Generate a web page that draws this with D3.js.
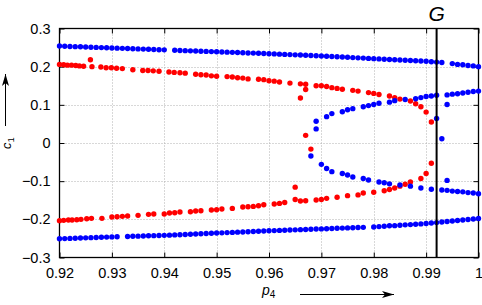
<!DOCTYPE html>
<html>
<head>
<meta charset="utf-8">
<script src="https://cdn.jsdelivr.net/npm/d3@7"></script>
<style>
  html, body { margin: 0; padding: 0; background: #fff; }
  svg { display: block; }
  text { font-family: "Liberation Sans", Arial, Helvetica, sans-serif; }
</style>
</head>
<body>
<div id="chart"></div>
<script>
// ---------- data ----------
const xTicks = [0.92, 0.93, 0.94, 0.95, 0.96, 0.97, 0.98, 0.99, 1.0];
const xTickLabels = ["0.92", "0.93", "0.94", "0.95", "0.96", "0.97", "0.98", "0.99", "1"];
const yTicks = [-0.3, -0.2, -0.1, 0, 0.1, 0.2, 0.3];
const yTickLabels = ["\u22120.3", "\u22120.2", "\u22120.1", "0", "0.1", "0.2", "0.3"];
const markerG = 0.992;
const markerLabel = "G";

// blue series: outer upper branch
const blueUpperX = [0.920,0.921,0.922,0.923,0.924,0.925,0.926,0.927,0.928,0.929,0.930,0.931,0.932,0.933,0.934,0.935,0.936,0.937,0.938,0.939,0.940,0.942,0.943,0.944,0.945,0.946,0.947,0.948,0.949,0.950,0.951,0.952,0.953,0.954,0.955,0.956,0.957,0.958,0.959,0.960,0.961,0.962,0.963,0.964,0.965,0.966,0.967,0.968,0.969,0.970,0.971,0.972,0.973,0.974,0.975,0.976,0.977,0.978,0.979,0.980,0.981,0.982,0.983,0.984,0.985,0.986,0.987,0.988,0.989,0.990,0.991,0.992,0.993,0.995,0.996,0.997,0.998,0.999,1.000];
const blueUpperY = [0.254,0.2535,0.253,0.2525,0.252,0.2515,0.251,0.2505,0.250,0.2495,0.249,0.2485,0.248,0.2475,0.247,0.2465,0.246,0.2455,0.245,0.2445,0.244,0.243,0.2425,0.242,0.2415,0.241,0.2405,0.240,0.2395,0.239,0.2385,0.238,0.2375,0.237,0.2365,0.236,0.2355,0.235,0.2345,0.234,0.2334,0.2328,0.2322,0.2316,0.231,0.2304,0.2298,0.2292,0.2286,0.228,0.2273,0.2266,0.2259,0.2252,0.2245,0.2238,0.2231,0.2224,0.2217,0.221,0.2203,0.2196,0.2189,0.2182,0.2175,0.2168,0.2161,0.2154,0.2147,0.214,0.213,0.212,0.211,0.208,0.206,0.205,0.203,0.202,0.200];

// blue series: outer lower branch
const blueLowerX = [0.920,0.921,0.922,0.923,0.924,0.925,0.926,0.927,0.928,0.929,0.930,0.931,0.933,0.934,0.935,0.936,0.937,0.938,0.939,0.940,0.941,0.942,0.943,0.944,0.945,0.946,0.947,0.948,0.949,0.950,0.951,0.952,0.953,0.954,0.955,0.956,0.957,0.958,0.959,0.960,0.961,0.962,0.963,0.964,0.965,0.966,0.967,0.968,0.969,0.970,0.971,0.972,0.973,0.974,0.975,0.976,0.977,0.978,0.980,0.981,0.982,0.983,0.984,0.985,0.986,0.987,0.988,0.989,0.990,0.991,0.992,0.993,0.994,0.995,0.996,0.997,0.998,0.999,1.000];
const blueLowerY = [-0.251,-0.2505,-0.250,-0.2495,-0.249,-0.2485,-0.248,-0.2475,-0.247,-0.2465,-0.246,-0.2456,-0.2448,-0.2444,-0.244,-0.2436,-0.2432,-0.2428,-0.2424,-0.242,-0.2414,-0.2408,-0.2402,-0.2396,-0.239,-0.2384,-0.2378,-0.2372,-0.2366,-0.236,-0.2354,-0.2348,-0.2342,-0.2336,-0.233,-0.2324,-0.2318,-0.2312,-0.2306,-0.230,-0.2295,-0.229,-0.2285,-0.228,-0.2275,-0.227,-0.2265,-0.226,-0.2255,-0.225,-0.2245,-0.224,-0.2235,-0.223,-0.2225,-0.222,-0.2215,-0.221,-0.220,-0.219,-0.218,-0.217,-0.2165,-0.2155,-0.2145,-0.2138,-0.213,-0.212,-0.211,-0.2098,-0.2085,-0.207,-0.2057,-0.2044,-0.203,-0.2017,-0.2003,-0.199,-0.198];

// blue series: inner closed branch
const blueInnerX = [0.968,0.969,0.969,0.971,0.972,0.974,0.975,0.976,0.978,0.979,0.980,0.981,0.983,0.984,0.986,0.988,0.989,0.990,0.991,0.992,0.994,0.995,0.996,0.997,0.998,0.999,1.000,0.994,0.992,0.993,0.970,0.971,0.972,0.974,0.975,0.976,0.978,0.979,0.981,0.982,0.983,0.985,0.987,0.989,0.991,0.993,0.994,0.995,0.996,0.997,0.998,0.999,1.000,0.994];
const blueInnerY = [-0.034,0.037,0.057,0.069,0.077,0.082,0.087,0.090,0.095,0.098,0.101,0.104,0.107,0.111,0.114,0.116,0.119,0.122,0.123,0.125,0.126,0.128,0.129,0.131,0.133,0.135,0.136,0.101,0.064,0.011,-0.056,-0.067,-0.075,-0.080,-0.084,-0.089,-0.093,-0.097,-0.102,-0.104,-0.107,-0.110,-0.113,-0.118,-0.121,-0.123,-0.124,-0.126,-0.127,-0.128,-0.130,-0.131,-0.133,-0.098];

// red series: upper branch
const redUpperX = [0.9200,0.9208,0.9215,0.9223,0.9231,0.9238,0.9246,0.9259,0.9262,0.9279,0.9289,0.9299,0.9309,0.9320,0.9340,0.9359,0.9369,0.9379,0.9390,0.9409,0.9419,0.943,0.944,0.946,0.947,0.948,0.949,0.950,0.952,0.953,0.954,0.955,0.956,0.958,0.959,0.960,0.961,0.962,0.964,0.966,0.967,0.967,0.966,0.969,0.970,0.971,0.972,0.973,0.974,0.976,0.977,0.979,0.980,0.981,0.983,0.984,0.985,0.987,0.988,0.989,0.990,0.991,0.967,0.968];
const redUpperY = [0.206,0.205,0.204,0.204,0.203,0.202,0.201,0.218,0.200,0.199,0.197,0.197,0.196,0.195,0.192,0.190,0.190,0.189,0.188,0.186,0.185,0.184,0.183,0.180,0.179,0.178,0.176,0.175,0.174,0.173,0.171,0.170,0.168,0.167,0.166,0.163,0.162,0.160,0.157,0.155,0.154,0.140,0.118,0.150,0.150,0.148,0.145,0.143,0.141,0.138,0.136,0.132,0.130,0.127,0.123,0.119,0.115,0.110,0.103,0.095,0.081,0.055,0.020,-0.016];

// red series: lower branch
const redLowerX = [0.9200,0.9208,0.9217,0.9224,0.9233,0.9241,0.9252,0.9261,0.9281,0.9300,0.9310,0.9320,0.9330,0.9350,0.9370,0.9380,0.9400,0.9410,0.9420,0.9430,0.9450,0.9460,0.9470,0.9490,0.9500,0.9510,0.9530,0.9550,0.9560,0.9570,0.9580,0.9590,0.9610,0.9620,0.9630,0.9650,0.9650,0.9660,0.9670,0.9690,0.9700,0.9710,0.9730,0.9750,0.9770,0.9780,0.9800,0.9820,0.9830,0.9840,0.9850,0.9860,0.9870,0.9890,0.9900,0.9910];
const redLowerY = [-0.2035,-0.2026,-0.2018,-0.2018,-0.2009,-0.2000,-0.1983,-0.1974,-0.1974,-0.1939,-0.1931,-0.1922,-0.1913,-0.1896,-0.1870,-0.1861,-0.1860,-0.1835,-0.1826,-0.1809,-0.1800,-0.1783,-0.1774,-0.1757,-0.1748,-0.1731,-0.1713,-0.1678,-0.1670,-0.1661,-0.1644,-0.1618,-0.1600,-0.1583,-0.1557,-0.1157,-0.1480,-0.1520,-0.1515,-0.1495,-0.1480,-0.1450,-0.1420,-0.1380,-0.1360,-0.1310,-0.1290,-0.1250,-0.1220,-0.1180,-0.1130,-0.1080,-0.1020,-0.0930,-0.0800,-0.0530];

// ---------- chart ----------
const W = 482, H = 305;
const L = 59.5, R = 478.5, T = 28.5, B = 257.5;

const svg = d3.select("#chart").append("svg").attr("width", W).attr("height", H);

const x = d3.scaleLinear().domain([0.92, 1.0]).range([L, R]);
const y = d3.scaleLinear().domain([-0.3, 0.3]).range([B, T]);

// grid
const grid = svg.append("g").attr("stroke", "#b0b0b0").attr("stroke-width", 1).attr("stroke-dasharray", "1,2");
grid.selectAll("line.gx").data(xTicks.slice(1, -1)).join("line")
  .attr("x1", d => Math.round(x(d)) + 0.5).attr("x2", d => Math.round(x(d)) + 0.5)
  .attr("y1", T).attr("y2", B);
grid.selectAll("line.gy").data(yTicks.slice(1, -1)).join("line")
  .attr("y1", d => Math.round(y(d)) + 0.5).attr("y2", d => Math.round(y(d)) + 0.5)
  .attr("x1", L).attr("x2", R);

// axes (inward ticks, mirrored)
const fontSize = "14.5px";
const axB = svg.append("g").attr("transform", `translate(0,${B})`)
  .call(d3.axisBottom(x).tickValues(xTicks).tickFormat((d, i) => xTickLabels[i]).tickSizeInner(-5).tickSizeOuter(0).tickPadding(10));
const axT = svg.append("g").attr("transform", `translate(0,${T})`)
  .call(d3.axisTop(x).tickValues(xTicks).tickFormat("").tickSizeInner(-5).tickSizeOuter(0));
const axL = svg.append("g").attr("transform", `translate(${L},0)`)
  .call(d3.axisLeft(y).tickValues(yTicks).tickFormat((d, i) => yTickLabels[i]).tickSizeInner(-5).tickSizeOuter(0).tickPadding(9));
const axR = svg.append("g").attr("transform", `translate(${R},0)`)
  .call(d3.axisRight(y).tickValues(yTicks).tickFormat("").tickSizeInner(-5).tickSizeOuter(0));
[axB, axT, axL, axR].forEach(a => {
  a.select(".domain").remove();
  a.selectAll(".tick line").attr("stroke", "#000");
  a.selectAll("text").attr("font-size", fontSize).attr("fill", "#000")
    .attr("font-family", '"Liberation Sans", Arial, sans-serif');
});

// frame
svg.append("rect").attr("x", L).attr("y", T).attr("width", R - L).attr("height", B - T)
  .attr("fill", "none").attr("stroke", "#000").attr("stroke-width", 1.3);

// points
function pts(xs, ys) { return xs.map((v, i) => [v, ys[i]]); }
const rad = 2.7;
const gDots = svg.append("g");
const redPts = pts(redUpperX, redUpperY).concat(pts(redLowerX, redLowerY));
const bluePts = pts(blueUpperX, blueUpperY).concat(pts(blueLowerX, blueLowerY), pts(blueInnerX, blueInnerY));
gDots.selectAll("circle.r").data(redPts).join("circle").attr("class", "r")
  .attr("cx", d => x(d[0])).attr("cy", d => y(d[1])).attr("r", rad).attr("fill", "#ff0000");
gDots.selectAll("circle.b").data(bluePts).join("circle").attr("class", "b")
  .attr("cx", d => x(d[0])).attr("cy", d => y(d[1])).attr("r", rad).attr("fill", "#0000ff");

// marker line G
svg.append("line").attr("x1", x(markerG)).attr("x2", x(markerG)).attr("y1", T).attr("y2", B)
  .attr("stroke", "#000").attr("stroke-width", 2);
svg.append("text").attr("x", x(markerG)).attr("y", 21).attr("text-anchor", "middle")
  .attr("font-size", "21px").attr("font-style", "italic").text(markerLabel);

// arrow marker
const defs = svg.append("defs");
defs.append("marker").attr("id", "arr").attr("viewBox", "0 0 12 8").attr("refX", 12).attr("refY", 4)
  .attr("markerWidth", 12).attr("markerHeight", 8).attr("markerUnits", "userSpaceOnUse").attr("orient", "auto")
  .append("path").attr("d", "M0,0.5 L12,4 L0,7.5 L3,4 Z").attr("fill", "#000");

// x label
const xl = svg.append("text").attr("x", 262).attr("y", 295).attr("font-size", "14px");
xl.append("tspan").attr("font-style", "italic").text("p");
xl.append("tspan").attr("font-size", "10px").attr("dy", 3).text("4");
svg.append("line").attr("x1", 300).attr("x2", 394).attr("y1", 294.5).attr("y2", 294.5)
  .attr("stroke", "#000").attr("stroke-width", 1).attr("marker-end", "url(#arr)");

// y label
const yl = svg.append("text").attr("transform", "translate(11,149) rotate(-90)").attr("font-size", "13px");
yl.append("tspan").attr("font-style", "italic").text("c");
yl.append("tspan").attr("font-size", "9.5px").attr("dy", 3).text("1");
svg.append("line").attr("x1", 5.5).attr("x2", 5.5).attr("y1", 126).attr("y2", 74)
  .attr("stroke", "#000").attr("stroke-width", 1).attr("marker-end", "url(#arr)");
</script>
</body>
</html>
